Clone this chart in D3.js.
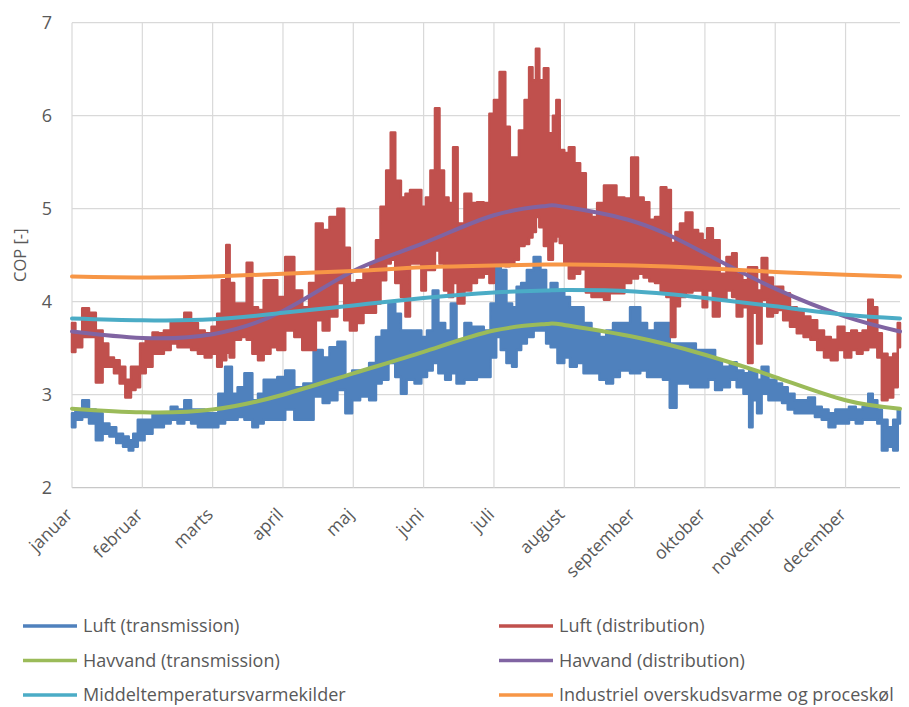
<!DOCTYPE html>
<html>
<head>
<meta charset="utf-8">
<script src="https://cdn.jsdelivr.net/npm/d3@7"></script>
<style>
  body { margin: 0; background: #fff; }
  text { font-family: "Open Sans", sans-serif; fill: #595959; }
</style>
</head>
<body>
<div id="chart"></div>
<script>
const WIDTH = 909;
const HEIGHT = 707;

// x axis: days of the year, gridlines every 744 hours (31 days)
const monthLabels = ["januar", "februar", "marts", "april", "maj", "juni", "juli",
  "august", "september", "oktober", "november", "december"];
const monthTickDays = [0, 31, 62, 93, 124, 155, 186, 217, 248, 279, 310, 341];
const yTicks = [2, 3, 4, 5, 6, 7];

// noisy hourly series, read as [day, low, high] of the band
const luftTransmission = [[0,2.65,2.80],[3,2.73,2.84],[6,2.76,2.94],[9,2.69,2.84],[12,2.51,2.80],[15,2.58,2.69],[18,2.55,2.65],[21,2.48,2.58],[24,2.44,2.55],[26,2.40,2.51],[28,2.44,2.58],[30,2.51,2.73],[34,2.58,2.73],[37,2.65,2.80],[39,2.65,2.80],[42,2.69,2.80],[45,2.73,2.87],[48,2.69,2.84],[51,2.73,2.94],[54,2.69,2.84],[57,2.65,2.84],[60,2.65,2.80],[63,2.65,2.80],[66,2.69,3.01],[69,2.73,3.30],[72,2.73,3.01],[74,2.76,3.08],[78,2.73,3.23],[81,2.65,2.94],[83,2.69,3.01],[86,2.73,3.16],[89,2.73,3.16],[92,2.73,3.19],[96,2.84,3.26],[100,2.73,3.08],[104,2.73,3.12],[109,2.98,3.48],[112,2.91,3.40],[115,2.94,3.51],[119,3.05,3.57],[122,2.80,3.19],[125,2.94,3.26],[129,2.98,3.26],[133,2.94,3.34],[135,3.12,3.62],[138,3.16,3.69],[141,3.34,3.98],[144,3.19,3.87],[146,3.01,3.69],[149,3.16,3.69],[153,3.12,3.69],[155,3.19,3.62],[158,3.26,3.69],[160,3.34,4.12],[163,3.23,3.77],[166,3.16,3.69],[168,3.23,3.98],[171,3.12,3.59],[175,3.16,3.77],[177,3.16,3.73],[180,3.19,3.73],[183,3.19,3.69],[186,3.40,3.98],[188,3.62,4.41],[190,3.48,4.34],[193,3.34,3.98],[195,3.30,3.94],[197,3.48,4.16],[199,3.55,4.20],[202,3.62,4.34],[205,3.69,4.48],[208,3.69,4.34],[210,3.55,4.12],[212,3.51,4.20],[216,3.34,4.12],[218,3.40,4.05],[221,3.30,3.94],[224,3.34,3.94],[227,3.23,3.77],[231,3.23,3.69],[234,3.16,3.62],[237,3.12,3.69],[240,3.19,3.77],[243,3.26,3.77],[249,3.23,3.94],[252,3.26,3.77],[255,3.19,3.69],[259,3.19,3.77],[262,3.16,3.77],[265,2.86,3.55],[268,3.12,3.55],[271,3.12,3.55],[274,3.08,3.55],[276,3.08,3.48],[279,3.08,3.48],[282,3.16,3.48],[285,3.05,3.37],[288,3.08,3.30],[292,3.16,3.35],[294,3.08,3.26],[298,3.01,3.23],[299,2.65,3.26],[301,2.94,3.23],[303,2.80,3.16],[305,3.01,3.30],[309,2.94,3.16],[312,2.94,3.12],[314,2.91,3.08],[317,2.84,3.01],[320,2.80,2.94],[323,2.80,2.94],[326,2.80,2.97],[329,2.76,2.87],[332,2.73,2.84],[335,2.65,2.80],[338,2.69,2.84],[341,2.69,2.84],[344,2.73,2.87],[347,2.69,2.84],[350,2.73,2.87],[352,2.73,3.01],[354,2.73,2.94],[356,2.69,2.84],[358,2.40,2.73],[361,2.44,2.65],[363,2.40,2.73],[365,2.69,2.84]];

const luftDistribution = [[0,3.46,3.77],[3,3.51,3.66],[6,3.62,3.93],[9,3.62,3.88],[12,3.13,3.69],[15,3.30,3.55],[17,3.30,3.40],[20,3.23,3.37],[22,3.12,3.30],[25,2.97,3.16],[27,3.05,3.30],[29,3.08,3.30],[31,3.23,3.55],[34,3.30,3.59],[37,3.44,3.67],[39,3.44,3.66],[42,3.48,3.69],[45,3.55,3.80],[48,3.51,3.80],[51,3.51,3.88],[54,3.48,3.77],[57,3.44,3.69],[60,3.40,3.66],[63,3.44,3.73],[65,3.30,3.87],[67,3.37,4.23],[69,3.45,4.61],[70,3.40,4.20],[73,3.59,3.98],[76,3.62,3.98],[78,3.59,4.42],[81,3.44,3.94],[83,3.37,3.91],[86,3.44,4.23],[89,3.51,4.23],[92,3.48,4.05],[96,3.69,4.48],[100,3.62,4.12],[103,3.48,3.94],[106,3.48,4.20],[109,3.80,4.84],[112,3.69,4.77],[115,3.84,4.91],[119,4.20,5.00],[121,3.80,4.58],[124,3.69,4.20],[127,3.77,4.23],[130,3.88,4.34],[133,3.88,4.41],[135,3.98,4.66],[137,4.23,5.02],[140,4.41,5.41],[141,4.45,5.82],[144,4.20,5.30],[146,4.05,5.12],[148,3.84,5.16],[150,4.41,5.20],[153,4.41,5.20],[155,4.12,5.02],[157,4.34,5.12],[159,4.34,5.41],[161,4.55,6.08],[163,4.41,5.41],[165,4.12,5.12],[167,4.05,5.06],[169,4.20,5.66],[171,3.98,4.84],[175,4.12,5.16],[177,4.20,5.06],[180,4.26,5.07],[183,4.30,5.06],[185,4.20,6.02],[187,4.40,6.17],[190,4.40,6.47],[192,4.38,5.88],[194,4.40,5.55],[196,4.45,5.55],[198,4.60,5.84],[201,4.62,6.17],[202,4.69,6.52],[204,4.75,6.38],[205,4.91,6.72],[207,4.80,6.38],[209,4.60,6.51],[211,4.45,5.81],[213,4.65,6.00],[214,4.70,6.17],[216,4.63,5.63],[218,4.40,5.60],[220,4.25,5.66],[223,4.30,5.49],[225,4.35,5.38],[228,4.10,4.95],[230,4.05,4.91],[233,4.05,5.06],[236,4.02,5.25],[238,4.09,5.25],[242,4.09,5.12],[245,4.20,5.11],[248,4.25,5.55],[251,4.30,5.12],[253,4.26,5.07],[256,4.22,4.88],[258,4.20,4.91],[261,4.10,5.23],[263,4.05,5.20],[265,3.62,4.63],[267,3.95,4.75],[269,4.05,4.84],[272,4.10,4.96],[275,4.12,4.77],[277,4.12,4.73],[279,3.94,4.66],[281,4.12,4.79],[284,3.84,4.66],[287,4.02,4.30],[290,4.12,4.48],[292,4.05,4.52],[294,3.84,4.30],[297,3.94,4.23],[299,3.34,4.37],[301,3.88,4.37],[303,3.55,4.12],[305,4.02,4.47],[308,3.84,4.26],[310,3.88,4.16],[312,3.91,4.16],[315,3.80,4.09],[318,3.73,3.94],[321,3.66,3.91],[324,3.62,3.84],[327,3.59,3.80],[330,3.48,3.69],[333,3.40,3.62],[336,3.37,3.59],[339,3.48,3.73],[342,3.40,3.66],[345,3.48,3.69],[347,3.44,3.66],[350,3.48,3.69],[352,3.51,4.02],[354,3.51,3.94],[356,3.40,3.66],[358,2.94,3.44],[361,2.97,3.40],[363,3.08,3.44],[365,3.51,3.77]];

// smooth series, read at the gridlines (plus the summer peak)
const smoothDays = [0, 31, 62, 93, 124, 155, 186, 209, 217, 248, 279, 310, 341, 365];
const havvandTransmission = [2.85, 2.81, 2.84, 3.00, 3.23, 3.46, 3.69, 3.76, 3.75, 3.62, 3.43, 3.19, 2.94, 2.85];
const havvandDistribution = [3.68, 3.61, 3.65, 3.90, 4.33, 4.63, 4.93, 5.03, 5.02, 4.86, 4.52, 4.14, 3.84, 3.68];
const middeltemperatur = [3.82, 3.80, 3.81, 3.88, 3.96, 4.04, 4.10, 4.12, 4.125, 4.11, 4.04, 3.95, 3.86, 3.82];
const industriel = [4.27, 4.26, 4.27, 4.30, 4.33, 4.37, 4.39, 4.40, 4.40, 4.39, 4.36, 4.32, 4.29, 4.27];

const colors = {
  luftT: "#4F81BD", luftD: "#C0504D", havT: "#9BBB59",
  havD: "#8064A2", middel: "#4BACC6", indu: "#F79646"
};

const legendItems = [
  { name: "Luft (transmission)", color: colors.luftT },
  { name: "Luft (distribution)", color: colors.luftD },
  { name: "Havvand (transmission)", color: colors.havT },
  { name: "Havvand (distribution)", color: colors.havD },
  { name: "Middeltemperatursvarmekilder", color: colors.middel },
  { name: "Industriel overskudsvarme og proceskøl", color: colors.indu }
];

const svg = d3.select("#chart").append("svg")
  .attr("width", WIDTH)
  .attr("height", HEIGHT);

svg.append("rect").attr("width", WIDTH).attr("height", HEIGHT).attr("fill", "#fff");

let x = d3.scaleLinear().domain([0, 365]).range([72, 900]);
let y = d3.scaleLinear().domain([2, 7]).range([487.7, 22.7]);

// gridlines
svg.append("g")
  .selectAll("line")
  .data(yTicks)
  .join("line")
  .attr("x1", x(0)).attr("x2", x(365))
  .attr("y1", d => y(d)).attr("y2", d => y(d))
  .attr("stroke", d => d == 2 ? "#c8c8c8" : "#d9d9d9").attr("stroke-width", 1.2);

svg.append("g")
  .selectAll("line")
  .data(monthTickDays)
  .join("line")
  .attr("x1", d => x(d)).attr("x2", d => x(d))
  .attr("y1", y(7)).attr("y2", y(2))
  .attr("stroke", "#d9d9d9").attr("stroke-width", 1.2);

// y axis labels
let yAxis = d3.axisLeft(y).tickValues(yTicks).tickFormat(d3.format("d")).tickSize(0).tickPadding(20);
let gy = svg.append("g").attr("transform", "translate(" + x(0) + ",0)").call(yAxis);
gy.select(".domain").remove();
gy.selectAll("text").attr("font-size", 18).attr("fill", "#595959")
  .style("font-family", "'Open Sans', sans-serif");

svg.append("text")
  .attr("transform", "translate(26," + y(4.5) + ") rotate(-90)")
  .attr("text-anchor", "middle")
  .attr("font-size", 16.5)
  .text("COP [-]");

// x axis labels, rotated
let xAxis = d3.axisBottom(x).tickValues(monthTickDays)
  .tickFormat((d, i) => monthLabels[i]).tickSize(0).tickPadding(0);
let gx = svg.append("g").attr("transform", "translate(0," + y(2) + ")").call(xAxis);
gx.select(".domain").remove();
gx.selectAll("text")
  .attr("font-size", 17.5).attr("fill", "#595959")
  .style("font-family", "'Open Sans', sans-serif")
  .attr("text-anchor", "end")
  .attr("dy", 0).attr("y", 0)
  .attr("transform", "translate(1,28) rotate(-45)");

// series
let band = d3.area()
  .x(d => x(d[0]))
  .y0(d => y(d[1]))
  .y1(d => y(d[2]))
  .curve(d3.curveStep);

function drawBand(data, color) {
  svg.append("path")
    .datum(data)
    .attr("d", band)
    .attr("fill", color)
    .attr("stroke", color)
    .attr("stroke-width", 2.5)
    .attr("stroke-linejoin", "round");
}

let smoothLine = d3.line()
  .x((d, i) => x(smoothDays[i]))
  .y(d => y(d))
  .curve(d3.curveNatural);

function drawSmooth(values, color) {
  svg.append("path")
    .datum(values)
    .attr("d", smoothLine)
    .attr("fill", "none")
    .attr("stroke", color)
    .attr("stroke-width", 4)
    .attr("stroke-linecap", "round");
}

drawBand(luftTransmission, colors.luftT);
drawBand(luftDistribution, colors.luftD);
drawSmooth(havvandTransmission, colors.havT);
drawSmooth(havvandDistribution, colors.havD);
drawSmooth(middeltemperatur, colors.middel);
drawSmooth(industriel, colors.indu);

// legend, two columns
let legend = svg.append("g")
  .selectAll("g")
  .data(legendItems)
  .join("g")
  .attr("transform", (d, i) => "translate(" + (i % 2 == 0 ? 23 : 499) + "," + (626 + Math.floor(i / 2) * 34.5) + ")");

legend.append("line")
  .attr("x1", 0).attr("x2", 54)
  .attr("stroke", d => d.color)
  .attr("stroke-width", 3.5);

legend.append("text")
  .attr("x", 60)
  .attr("dy", "0.35em")
  .attr("font-size", 18)
  .text(d => d.name);
</script>
</body>
</html>
